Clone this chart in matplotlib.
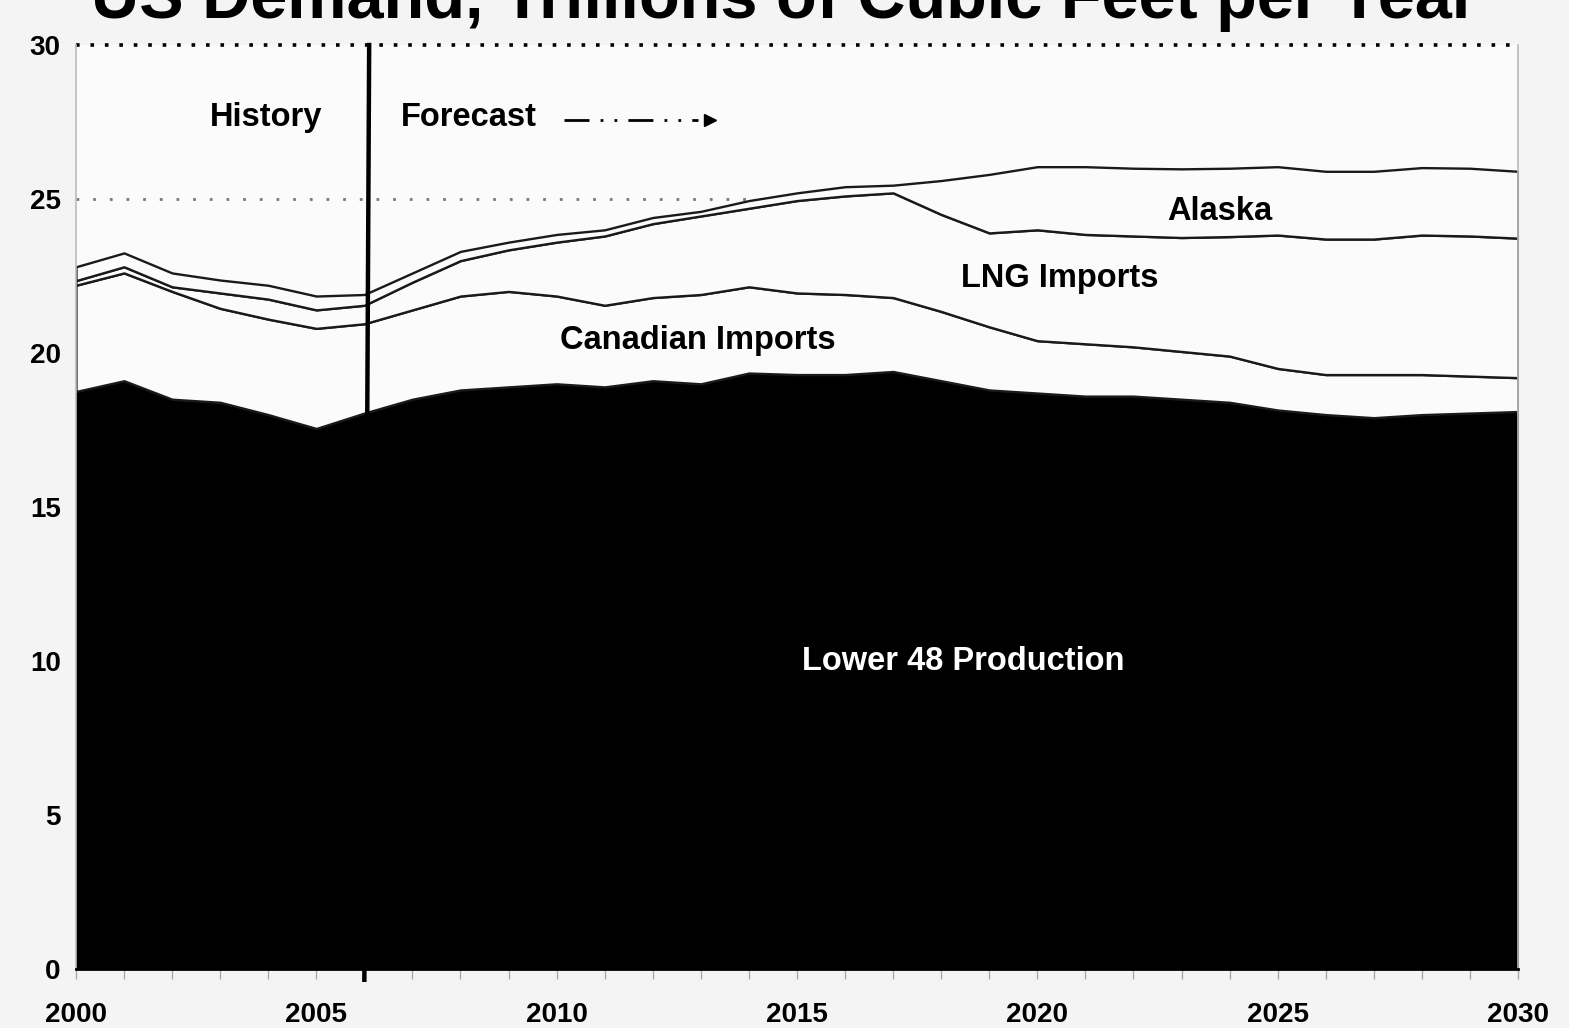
"""
Stacked area chart: US natural gas demand by source, history and forecast.
"""

import numpy as np
import matplotlib
matplotlib.use("Agg")
import matplotlib.pyplot as plt


# years on the x axis
years = list(range(2000, 2031))

# supply components, trillion cubic feet per year
lower48 = [18.75, 19.1, 18.5, 18.4, 18.0, 17.55, 18.05, 18.5, 18.8, 18.9, 19.0,
           18.9, 19.1, 19.0, 19.35, 19.3, 19.3, 19.4, 19.1, 18.8, 18.7,
           18.6, 18.6, 18.5, 18.4, 18.15, 18.0, 17.9, 18.0, 18.05, 18.1]
canadian = [3.45, 3.5, 3.5, 3.05, 3.1, 3.25, 2.9, 2.9, 3.05, 3.1, 2.85,
            2.65, 2.7, 2.9, 2.8, 2.65, 2.6, 2.4, 2.25, 2.05, 1.7,
            1.7, 1.6, 1.55, 1.5, 1.35, 1.3, 1.4, 1.3, 1.2, 1.1]
lng = [0.15, 0.2, 0.15, 0.5, 0.65, 0.6, 0.6, 0.9, 1.15, 1.35, 1.75,
       2.25, 2.4, 2.55, 2.55, 3.0, 3.2, 3.4, 3.15, 3.05, 3.6,
       3.55, 3.6, 3.7, 3.88, 4.33, 4.4, 4.4, 4.53, 4.55, 4.53]
alaska = [0.45, 0.45, 0.45, 0.42, 0.45, 0.45, 0.35, 0.3, 0.3, 0.25, 0.25,
          0.2, 0.2, 0.15, 0.25, 0.25, 0.3, 0.25, 1.1, 1.9, 2.05,
          2.2, 2.2, 2.23, 2.22, 2.22, 2.2, 2.2, 2.19, 2.2, 2.17]

y_ticks = [0, 5, 10, 15, 20, 25, 30]
x_ticks = [2000, 2005, 2010, 2015, 2020, 2025, 2030]
forecast_start = 2006

plt.rcParams["font.family"] = ["Liberation Sans", "DejaVu Sans"]

fig = plt.figure(figsize=(15.69, 10.28), dpi=100, facecolor="#f4f4f4")
ax = fig.add_axes([0.0484, 0.0574, 0.9191, 0.8988])
ax.set_facecolor("#fbfbfb")

# cumulative levels of the stack
x = np.array(years)
level0 = np.zeros(len(years))
level1 = level0 + np.array(lower48)
level2 = level1 + np.array(canadian)
level3 = level2 + np.array(lng)
level4 = level3 + np.array(alaska)

# dotted reference lines at 25 and 30
ax.axhline(30, color="black", lw=2.6, ls=(0, (1, 3)), zorder=1, clip_on=False)
ax.axhline(25, color="#777777", lw=2.0, ls=(0, (1, 5)), zorder=1)

# stacked areas: black production, white import bands with dark outlines
ax.fill_between(x, level0, level1, facecolor="black", edgecolor="black", lw=1, zorder=2)
for lo, hi in [(level1, level2), (level2, level3), (level3, level4)]:
    ax.fill_between(x, lo, hi, facecolor="#fbfbfb", edgecolor="#1a1a1a",
                    lw=1.7, zorder=2)

# divider between history and forecast
ax.plot([forecast_start + 0.1, forecast_start], [30, -0.35], color="black",
        lw=3.2, zorder=4, clip_on=False)

# labels inside the chart
bold = dict(fontsize=23.5, fontweight="bold", ha="center", va="center", zorder=5)
ax.text(2003.96, 27.66, "History", color="black", **bold)
ax.text(2006.75, 27.66, "Forecast", color="black", fontsize=23.5, fontweight="bold",
        ha="left", va="center", zorder=5)
ax.plot([2010.15, 2012.95], [27.55, 27.55], color="black", lw=2.0,
        ls=(0, (9, 4, 1, 4, 1, 4)), zorder=5)
ax.plot([2013.2], [27.55], marker=">", ms=9, color="black", zorder=5)
ax.text(2012.94, 20.4, "Canadian Imports", color="black", **bold)
ax.text(2020.46, 22.43, "LNG Imports", color="black", **bold)
ax.text(2023.8, 24.6, "Alaska", color="black", **bold)
ax.text(2018.45, 10.0, "Lower 48 Production", color="white", **bold)

# axes
ax.set_xlim(2000, 2030)
ax.set_ylim(0, 30)
ax.set_xticks(x_ticks)
ax.set_xticklabels([str(t) for t in x_ticks], fontsize=20, fontweight="bold")
ax.set_xticks(years, minor=True)
ax.set_yticks(y_ticks)
ax.set_yticklabels([str(t) for t in y_ticks], fontsize=20, fontweight="bold")
ax.tick_params(axis="x", which="both", direction="out", length=7, width=1,
               color="#aaaaaa", pad=17)
ax.tick_params(axis="y", length=0, pad=11)

for side in ["left", "right"]:
    ax.spines[side].set_color("#bbbbbb")
    ax.spines[side].set_linewidth(1.2)
ax.spines["top"].set_visible(False)
ax.spines["bottom"].set_color("black")
ax.spines["bottom"].set_linewidth(2)
ax.spines["bottom"].set_zorder(3)

# title, mostly cut off at the top of the picture (as in the original slide)
fig.text(0.5, 0.9825, "US Demand, Trillions of Cubic Feet per Year",
         fontsize=48, fontweight="bold", ha="center", va="baseline")

fig.savefig("out.png", dpi=100, facecolor=fig.get_facecolor())
